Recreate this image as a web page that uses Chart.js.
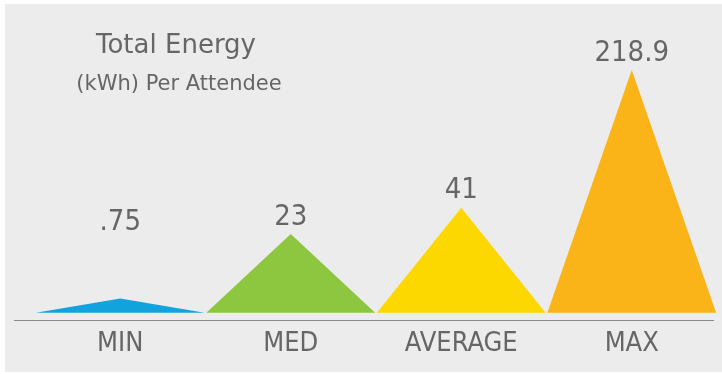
<!DOCTYPE html>
<html>
<head>
<meta charset="utf-8">
<script src="https://cdn.jsdelivr.net/npm/chart.js@4.4.1/dist/chart.umd.min.js"></script>
<style>
  html, body { margin: 0; padding: 0; background: #fff; }
  #wrap { position: absolute; left: 5px; top: 4px; width: 717px; height: 368px; background: #ececec; }
</style>
</head>
<body>
<div id="wrap"><canvas id="energyChart" width="717" height="368"></canvas></div>
<script>
const categories = ["MIN", "MED", "AVERAGE", "MAX"];
const energyPerAttendee = [0.75, 23, 41, 218.9];
const peakColors = ["#12a3df", "#8dc63f", "#fcd800", "#fbb417"];

const FONT = "'DejaVu Sans Condensed', 'DejaVu Sans', sans-serif";
const HEAD_FONT = "'DejaVu Sans', sans-serif";
const TEXT_GREY = "#666666";

// square-root value axis so the small values still show as visible peaks
class SqrtScale extends Chart.LinearScale {
  toSqrt(v) { return Math.sign(v) * Math.sqrt(Math.abs(v)); }
  getPixelForValue(value) {
    if (value === null) return NaN;
    const lo = this.toSqrt(this.min), hi = this.toSqrt(this.max);
    return this.getPixelForDecimal((this.toSqrt(value) - lo) / (hi - lo));
  }
  getValueForPixel(pixel) {
    const lo = this.toSqrt(this.min), hi = this.toSqrt(this.max);
    const t = lo + this.getDecimalForPixel(pixel) * (hi - lo);
    return Math.sign(t) * t * t;
  }
}
SqrtScale.id = "sqrt";
SqrtScale.defaults = Chart.LinearScale.defaults;
Chart.register(SqrtScale);

function formatValue(v) {
  return String(v).replace(/^0\./, ".");
}

// draw each bar as a triangle spanning its slot, then the labels
const trianglePeaks = {
  id: "trianglePeaks",
  beforeDatasetDraw(chart, args) {
    const ctx = chart.ctx;
    args.meta.data.forEach((bar) => {
      const { x, y, base, width } = bar.getProps(["x", "y", "base", "width"], true);
      ctx.save();
      ctx.fillStyle = bar.options.backgroundColor;
      ctx.beginPath();
      ctx.moveTo(x - width / 2, base);
      ctx.lineTo(x, y);
      ctx.lineTo(x + width / 2, base);
      ctx.closePath();
      ctx.fill();
      ctx.restore();
    });
    return false;
  },
  afterDatasetsDraw(chart) {
    const ctx = chart.ctx;
    const area = chart.chartArea;

    // baseline
    ctx.save();
    ctx.strokeStyle = "#8a8a8a";
    ctx.lineWidth = 1;
    ctx.beginPath();
    ctx.moveTo(9, Math.round(area.bottom) + 0.5);
    ctx.lineTo(709, Math.round(area.bottom) + 0.5);
    ctx.stroke();

    // value labels above the peaks
    ctx.fillStyle = TEXT_GREY;
    ctx.font = "29px " + FONT;
    ctx.textAlign = "center";
    ctx.textBaseline = "middle";
    const meta = chart.getDatasetMeta(0);
    meta.data.forEach((bar, i) => {
      const { x, y, base } = bar.getProps(["x", "y", "base"], true);
      const ly = Math.min(y - 17, base - 90);
      ctx.fillText(formatValue(energyPerAttendee[i]), x, ly);
    });

    // heading
    ctx.textBaseline = "alphabetic";
    ctx.font = "26px " + HEAD_FONT;
    ctx.fillText("Total Energy", 171, 49);
    ctx.font = "21px " + HEAD_FONT;
    ctx.fillText("(kWh) Per Attendee", 174, 86);
    ctx.restore();
  }
};

new Chart(document.getElementById("energyChart"), {
  type: "bar",
  data: {
    labels: categories,
    datasets: [
      {
        data: energyPerAttendee,
        backgroundColor: peakColors,
        barPercentage: 0.99,
        categoryPercentage: 1,
      },
    ],
  },
  options: {
    responsive: false,
    devicePixelRatio: 1,
    animation: false,
    layout: { padding: { left: 30, right: 5, top: 26, bottom: 4 } },
    plugins: { legend: { display: false }, tooltip: { enabled: false } },
    scales: {
      x: {
        grid: { display: false, drawTicks: false },
        border: { display: false },
        ticks: { color: TEXT_GREY, font: { family: FONT, size: 27 }, padding: 8 },
      },
      y: {
        type: "sqrt",
        display: false,
        min: -0.18,
        max: 297,
      },
    },
  },
  plugins: [trianglePeaks],
});
</script>
</body>
</html>
